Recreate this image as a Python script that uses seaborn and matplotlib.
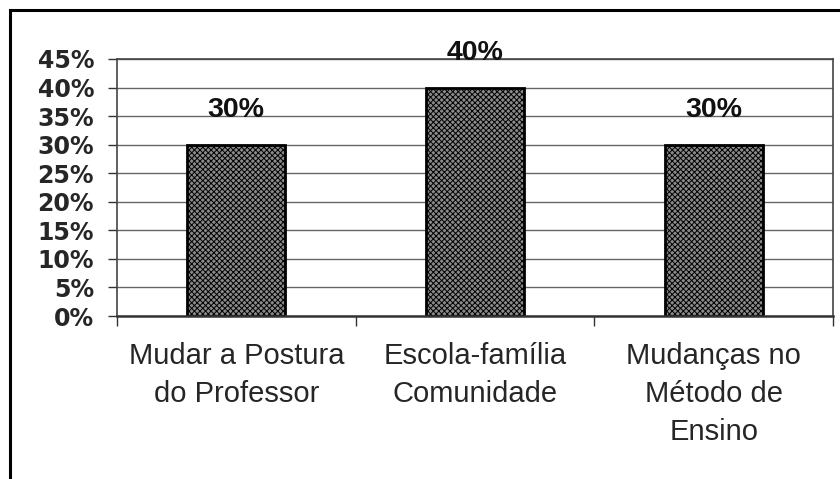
#!/usr/bin/env python
"""Bar chart: percentuais por categoria."""

import matplotlib
matplotlib.use("Agg")
import matplotlib.pyplot as plt
from matplotlib.patches import Rectangle
from matplotlib.ticker import MultipleLocator, FuncFormatter
import pandas as pd
import seaborn as sns

categories = ["Mudar a Postura\ndo Professor", "Escola-família\nComunidade", "Mudanças no\nMétodo de\nEnsino"]
values = [30, 40, 30]
value_labels = ["30%", "40%", "30%"]

df = pd.DataFrame({"categoria": categories, "valor": values})

sns.set_style("white")
plt.rcParams["font.family"] = ["Liberation Sans", "DejaVu Sans"]
plt.rcParams["hatch.linewidth"] = 0.7

fig = plt.figure(figsize=(8.4, 4.79), dpi=100)
ax = fig.add_axes([117 / 840, 1 - 316 / 479, (833 - 117) / 840, (316 - 59) / 479])

sns.barplot(data=df, x="categoria", y="valor", ax=ax, width=0.41,
            color="#8a8a8a", saturation=1, edgecolor="black", linewidth=2)
for bar in ax.patches:
    bar.set_hatch("xxxxxx")
    bar.set_edgecolor("black")

# value labels above bars
for i, (v, lab) in enumerate(zip(values, value_labels)):
    ax.text(i, v + 4.85, lab, ha="center", va="baseline",
            fontsize=20.5, fontweight="bold", color="#111111")

ax.set_ylim(0, 45)
ax.set_xlim(-0.5, 2.5)
ax.yaxis.set_major_locator(MultipleLocator(5))
ax.yaxis.set_major_formatter(FuncFormatter(lambda v, p: f"{int(v)}%"))
ax.grid(axis="y", color="#666666", linewidth=1)
ax.set_axisbelow(True)

# category separators as ticks on the x axis
ax.set_xticks([-0.5, 0.5, 1.5, 2.5], minor=True)
ax.set_xticks([0, 1, 2])
ax.set_xticklabels(categories, fontsize=21, linespacing=1.44, va="top")
ax.tick_params(axis="x", which="major", length=0, pad=19)
ax.tick_params(axis="x", which="minor", length=7, width=1, color="#333333", direction="out", bottom=True)
ax.tick_params(axis="y", length=6.5, width=1, color="#333333", direction="out", left=True, pad=10)
for t in ax.get_yticklabels():
    t.set_family("DejaVu Sans")
    t.set_fontweight("bold")
    t.set_fontsize(17)

for side in ["top", "right", "left"]:
    ax.spines[side].set_linestyle((0, (2, 1)))
    ax.spines[side].set_color("#444444")
    ax.spines[side].set_linewidth(1.2)
ax.spines["bottom"].set_linestyle((0, (2, 1)))
ax.spines["bottom"].set_color("#333333")
ax.spines["bottom"].set_linewidth(1.8)

ax.set_xlabel("")
ax.set_ylabel("")

# outer frame of the chart area
fig.patches.append(Rectangle((10 / 840, -0.05), 1.0, 1 - 10 / 479 + 0.05,
                             transform=fig.transFigure, fill=False,
                             edgecolor="black", linewidth=2.2))

fig.savefig("out.png", dpi=100)
plt.close(fig)
